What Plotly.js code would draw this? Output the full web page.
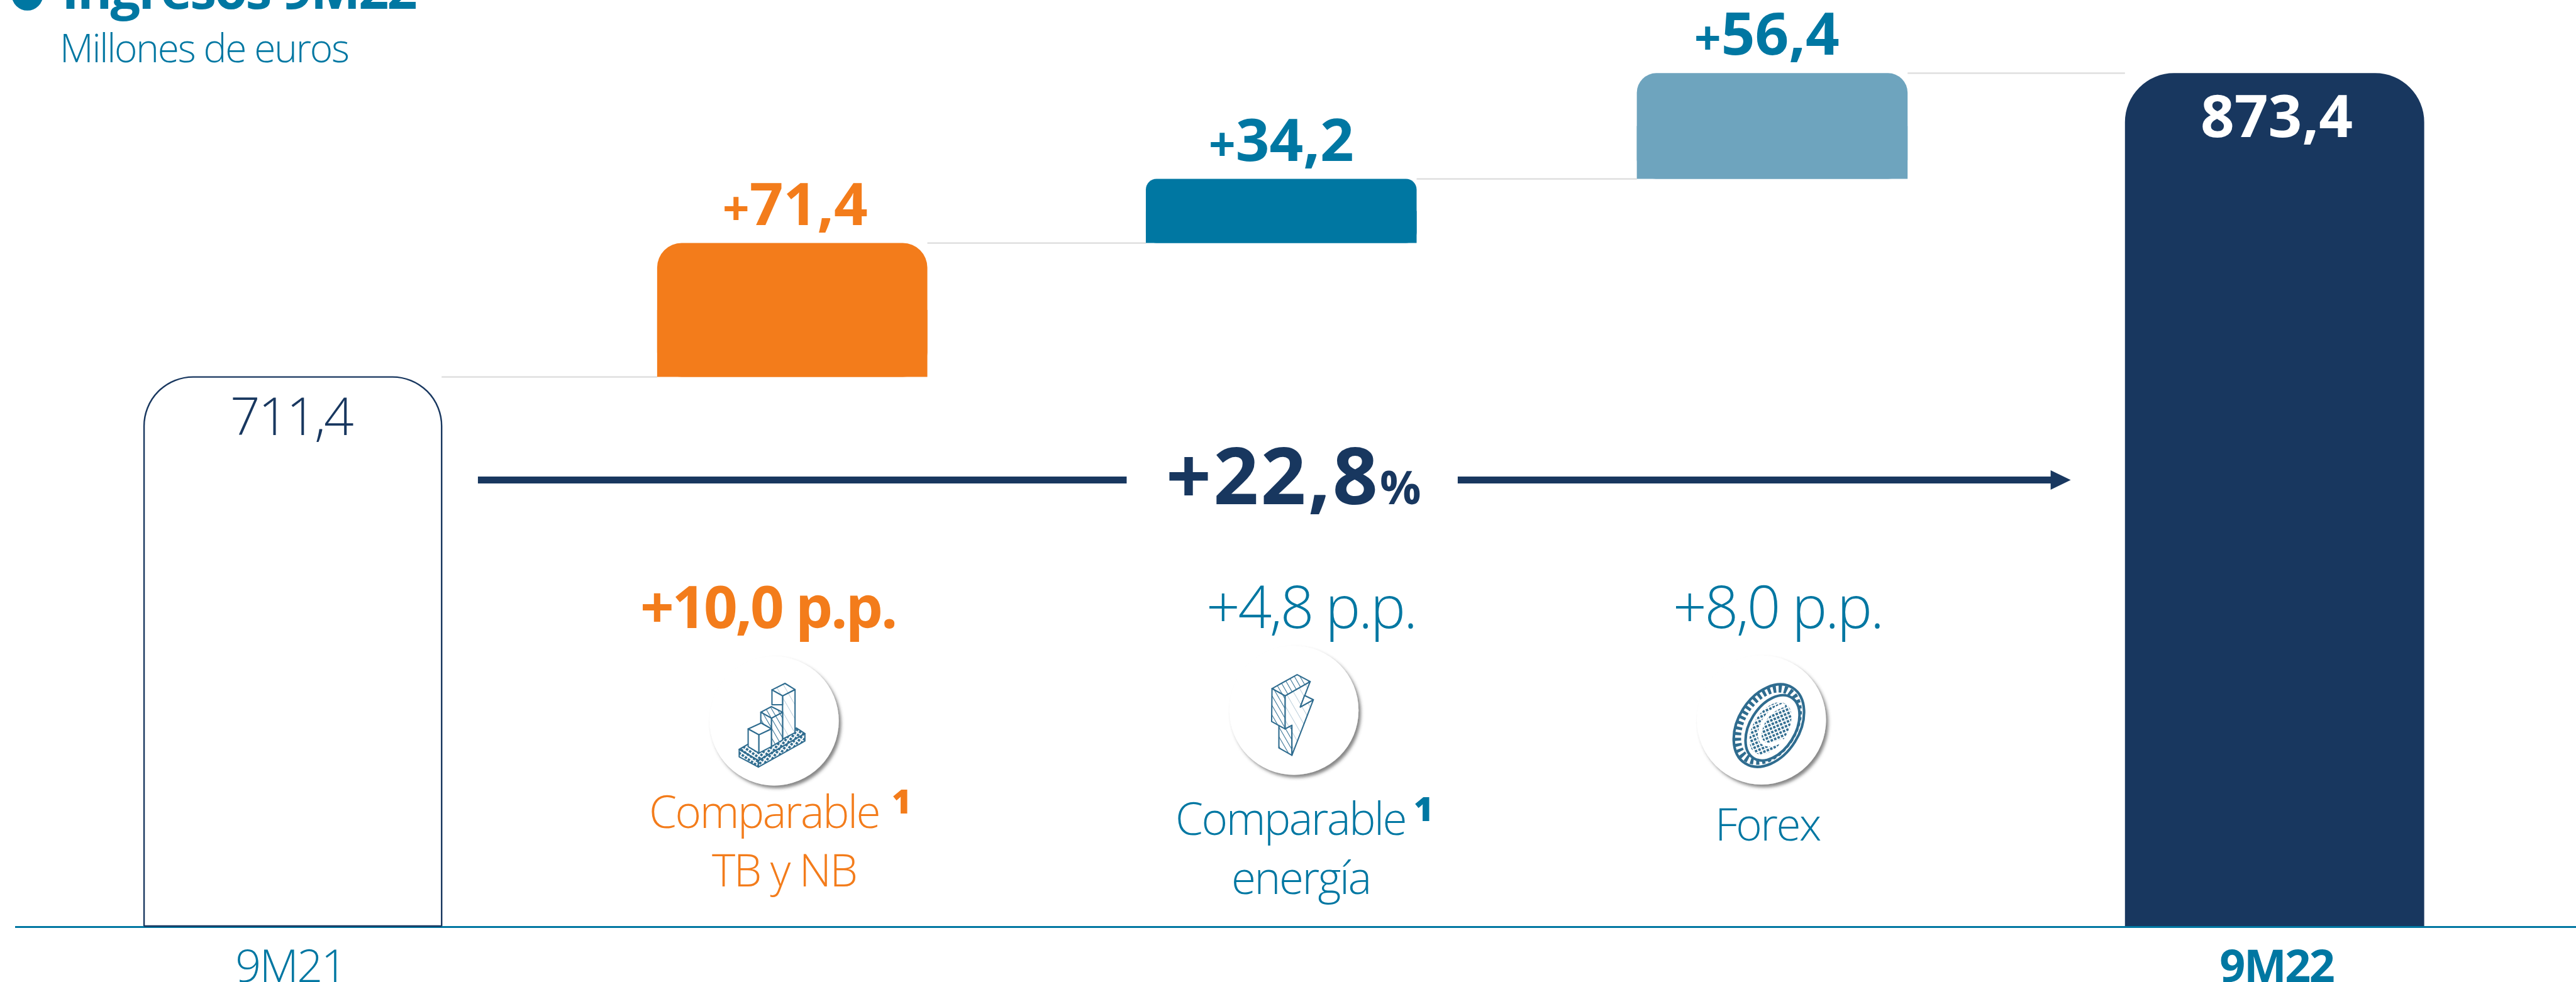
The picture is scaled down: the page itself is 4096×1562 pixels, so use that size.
<!DOCTYPE html>
<html><head><meta charset="utf-8">
<script src="https://cdn.plot.ly/plotly-3.0.1.min.js"></script>
<style>
html,body{margin:0;padding:0;background:#fff;overflow:hidden}
#c{width:4096px;height:1562px}
.annotation-text,.xtick text{letter-spacing:-0.035em}
</style></head><body><div id="c"></div>
<script>
// ---- data ----
const categories = ['9M21','Comparable TB y NB','Comparable energía','Forex','9M22'];
const values     = [711.4, 71.4, 34.2, 56.4, 873.4];
const bases      = [0, 711.4, 782.8, 817.0, 0];
const tickLabels = ['9M21','<b>9M22</b>'];
const growthLabel = '+22,8';
const ppLabels   = ['+10,0 p.p.','+4,8 p.p.','+8,0 p.p.'];
const driverLines = [['Comparable','TB y NB'],['Comparable','energía'],['Forex']];
const titleText  = 'Ingresos 9M22';
const subtitleText = 'Millones de euros';

// ---- layout constants (reference px -> window) ----
const S = 4096/4614, REFW = 4614, REFH = 1760, AXY = 1660, AXL = 27;
const UNIT = 887.4, C0 = 524.5;
const slots  = [0, 1.008, 1.995, 2.986, 4];
const widths = [533, 484, 485, 485, 536].map(w=>w/UNIT);
const radii  = [88, 45, 20, 35, 88].map(r=>r*S);
const fills  = ['#ffffff','#F37C1B','#0077A2','#6EA4BE','#18375F'];
const NAVY='#18375F', TEAL='#0077A2', ORANGE='#F37C1B', GREY='#dcdcdc';
const FONT='"Open Sans"';
const px = x => (x-AXL)/(REFW-AXL);
const py = y => 1-y/AXY;

// rounded bars; floating steps get a square-cornered lower half so only their tops stay rounded
const traces = values.map((v,i)=>{
  const t={type:'bar', name:categories[i], x:[slots[i]], y:[v], width:[widths[i]],
    marker:{color:fills[i], cornerradius:radii[i], line:{color:i===0?NAVY:fills[i], width:i===0?2.4:0}},
    hoverinfo:'skip', showlegend:false};
  if(bases[i]) t.base=[bases[i]];
  return t;
}).concat(values.map((v,i)=>bases[i]?{type:'bar', name:categories[i]+' (foot)', x:[slots[i]], y:[v/2], base:[bases[i]], width:[widths[i]],
    marker:{color:fills[i], line:{width:0}}, hoverinfo:'skip', showlegend:false}:null).filter(Boolean));

// text placed by its baseline in reference px
function T(text,x,base,size,color,weight,extra){
  return Object.assign({text, xref:'paper', yref:'paper', x:px(x), y:py(base+0.293*size),
    xanchor:'center', yanchor:'bottom', showarrow:false, borderpad:0,
    font:{family:FONT,size:size*S,color,weight}},extra||{});
}
const num = v=>v.toFixed(1).replace('.',',');
const plus = (s,sz)=>`<span style="font-size:${sz*S}px;letter-spacing:0">+</span><span style="letter-spacing:0">${s}</span>`;
function V(i,text,color,weight,size,yanchor,yshift,xshift){
  return {text,xref:'x',yref:'y',x:slots[i],y:bases[i]+values[i],
    xanchor:'center',yanchor,yshift,xshift,showarrow:false,borderpad:0,
    font:{family:FONT,size:size*S,color,weight}};
}
const ann = [
  T(titleText,428,17,95,TEAL,700),
  T(subtitleText,366,113,70,TEAL,300),
  V(0,num(values[0]),NAVY,300,94,'top',-3*S,-2*S),
  V(1,plus(num(values[1]),84),ORANGE,700,106,'bottom',0,5*S),
  V(2,plus(num(values[2]),84),TEAL,700,106,'bottom',0,0),
  V(3,plus(num(values[3]),84),TEAL,700,106,'bottom',0,-10*S),
  V(4,`<span style="letter-spacing:0">${num(values[4])}</span>`,'#ffffff',700,106,'top',0,4*S),
  T(`<span style="letter-spacing:.025em">${growthLabel}</span><span style="font-size:${82*S}px">%</span>`,2316,905,142,NAVY,700),
  T(ppLabels[0],1375,1127,106,ORANGE,700),
  T(ppLabels[1],2348,1127,106,TEAL,300),
  T(ppLabels[2],3184,1127,106,TEAL,300),
  T(driverLines[0][0],1369,1486,80,ORANGE,300),
  T('1',1614,1460,60,ORANGE,800),
  T(driverLines[0][1],1405,1590,80,ORANGE,300),
  T(driverLines[1][0],2311,1498,80,TEAL,300),
  T('1',2549,1473,60,TEAL,800),
  T(driverLines[1][1],2330,1604,80,TEAL,300),
  T(driverLines[2][0],3167,1508,80,TEAL,300)
];

// connectors between consecutive bar tops
const tops = values.map((v,i)=>bases[i]+v);
const conn = [0,1,2,3].map(i=>({type:'line',xref:'x',yref:'y',layer:'below',
  x0:slots[i]+widths[i]/2, x1:slots[i+1]-widths[i+1]/2, y0:tops[i], y1:tops[i],
  line:{color:GREY,width:2.2}}));
const shapes = conn.concat([
  {type:'line',xref:'paper',yref:'paper',x0:px(856),x1:px(2018),y0:py(860.5),y1:py(860.5),line:{color:NAVY,width:11}},
  {type:'line',xref:'paper',yref:'paper',x0:px(2611),x1:px(3680),y0:py(860.5),y1:py(860.5),line:{color:NAVY,width:11}},
  {type:'path',xref:'paper',yref:'paper',fillcolor:NAVY,line:{width:0},
   path:`M${px(3673)} ${py(843)} L${px(3709)} ${py(860.5)} L${px(3673)} ${py(878)} Z`},
  {type:'circle',xref:'paper',yref:'paper',fillcolor:TEAL,line:{width:0},
   x0:px(21),x1:px(77),y0:py(19),y1:py(-37)},
  {type:'line',xref:'x',yref:'paper',x0:slots[0]-widths[0]/2,x1:slots[0]+widths[0]/2,y0:0,y1:0,line:{color:NAVY,width:2.6}}
]);

// icons: circle badge + hatched drawing, in crop units (360x300 ref px, x3)
const IC='#2F6C8F';
const defs=`<defs>
<filter id="s" x="-20%" y="-20%" width="150%" height="150%"><feDropShadow dx="13" dy="15" stdDeviation="9" flood-color="#444" flood-opacity="0.65"/></filter>
<pattern id="h" width="26" height="26" patternUnits="userSpaceOnUse" patternTransform="rotate(-30)"><rect width="26" height="26" fill="#fff"/><line x1="0" y1="0" x2="0" y2="26" stroke="${IC}" stroke-width="7"/></pattern>
<pattern id="l" width="38" height="38" patternUnits="userSpaceOnUse" patternTransform="rotate(-30)"><rect width="38" height="38" fill="#fff"/><line x1="0" y1="0" x2="0" y2="38" stroke="${IC}" stroke-opacity=".55" stroke-width="4"/></pattern>
<pattern id="x" width="20" height="20" patternUnits="userSpaceOnUse" patternTransform="rotate(35)"><rect width="20" height="20" fill="#fff"/><rect width="13" height="13" fill="${IC}"/></pattern>
</defs>`;
function svg(cx,cy,body){
  return 'data:image/svg+xml;utf8,'+encodeURIComponent(
  `<svg xmlns="http://www.w3.org/2000/svg" width="1080" height="900" viewBox="0 0 1080 900">${defs}
  <circle cx="${cx}" cy="${cy}" r="347" fill="#fff" filter="url(#s)"/>
  <g stroke="${IC}" stroke-width="7" stroke-linejoin="round" fill="#fff">${body}</g></svg>`);
}
const iconChart=svg(560,487,`
 <polygon points="372,640 475,700 725,555 680,525 620,560 480,640 420,612" fill="url(#x)"/>
 <polygon points="372,640 475,700 475,735 372,680" fill="url(#x)"/>
 <polygon points="475,700 725,555 725,595 475,735" fill="url(#x)"/>
 <polygon points="605,352 672,318 672,550 605,585" fill="url(#l)"/>
 <polygon points="548,320 618,285 672,318 605,352" fill="url(#l)"/>
 <polygon points="548,320 605,352 605,400 548,400" fill="#fff"/>
 <polygon points="545,472 605,440 605,590 545,625" fill="url(#h)"/>
 <polygon points="488,440 545,410 605,440 545,472" fill="url(#h)"/>
 <polygon points="488,440 545,472 545,530 488,498" fill="url(#h)"/>
 <polygon points="420,530 490,498 545,530 478,562" fill="#fff"/>
 <polygon points="420,530 478,562 478,660 420,625" fill="#fff"/>
 <polygon points="478,562 545,530 545,625 478,660" fill="#fff"/>`);
const iconBolt=svg(503,430,`
 <polygon points="422,515 492,510 492,672 422,632" fill="url(#h)"/>
 <polygon points="455,352 590,275 537,412 607,373 492,672 492,510 455,530" fill="url(#l)"/>
 <polygon points="560,350 607,373 537,412" fill="#fff"/>
 <polygon points="385,313 520,238 590,275 455,352" fill="url(#h)"/>
 <polygon points="385,313 455,352 455,530 383,490" fill="url(#h)"/>`);
const iconCoin=svg(465,482,`
 <g transform="rotate(32 505 512)">
 <ellipse cx="505" cy="512" rx="165" ry="240" fill="#fff" stroke-width="14"/>
 <ellipse cx="498" cy="512" rx="140" ry="212" fill="none" stroke-width="40" stroke-dasharray="16 14"/>
 <ellipse cx="528" cy="512" rx="122" ry="192" fill="#fff" stroke-width="14"/>
 <ellipse cx="520" cy="520" rx="92" ry="155" fill="url(#x)" stroke="none"/>
 </g>
 <path d="M590,400 Q470,440 455,560 Q460,650 585,590" fill="none" stroke="#fff" stroke-width="20"/>`);
const img=(src,x,y)=>({source:src,xref:'paper',yref:'paper',x:px(x),y:py(y),
  sizex:360/(REFW-AXL),sizey:300/AXY,xanchor:'left',yanchor:'top',sizing:'stretch',layer:'above'});

const layout={
  width:4096,height:1562,paper_bgcolor:'#fff',plot_bgcolor:'#fff',
  margin:{l:AXL*S,r:0,t:0,b:(REFH-AXY)*S,pad:0},
  barmode:'overlay',showlegend:false,
  xaxis:{range:[(AXL-C0)/UNIT,(REFW-C0)/UNIT],tickmode:'array',tickvals:[slots[0]-0.005,slots[4]+0.004],ticktext:tickLabels,
    showgrid:false,zeroline:false,showline:true,linecolor:TEAL,linewidth:3,ticks:'',
    tickfont:{family:FONT,size:81*S,color:TEAL,weight:300},ticklabelstandoff:0,fixedrange:true},
  yaxis:{range:[418.6,912.4],visible:false,fixedrange:true},
  annotations:ann,shapes:shapes,
  images:[img(iconChart,1200,1130),img(iconBolt,2150,1130),img(iconCoin,3000,1130)]
};
Plotly.newPlot('c',traces,layout,{displayModeBar:false,staticPlot:true});
</script></body></html>
